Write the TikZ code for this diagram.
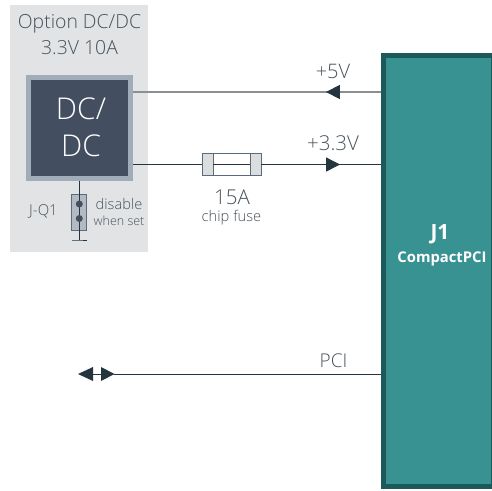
\documentclass[tikz,border=0pt]{standalone}
\usepackage{fontspec}
\setmainfont{Open Sans}[UprightFont={* Light},BoldFont={* Bold}]
\usetikzlibrary{arrows.meta,decorations.markings}
\definecolor{panel}{HTML}{E1E3E5}
\definecolor{dcfill}{HTML}{434F60}
\definecolor{dcedge}{HTML}{A0ACB8}
\definecolor{jfill}{HTML}{389292}
\definecolor{jedge}{HTML}{1C5A5A}
\definecolor{ink}{HTML}{24353F}
\definecolor{txt}{HTML}{46525C}
\definecolor{gline}{HTML}{8A8F92}
\definecolor{fusecap}{HTML}{DCDDDD}
\definecolor{fuseedge}{HTML}{5A6B80}
\definecolor{jump}{HTML}{B4BAC2}
\tikzset{
  x=1pt,y=-1pt,
  lbl/.style={text=txt,inner sep=0pt,align=center,font=\fontsize{#1}{#1}\selectfont},
  wire/.style={draw=ink,line width=0.85pt},
  headat/.style={postaction={decorate},decoration={markings,mark=at position #1 with {\arrow[ink]{Triangle[length=14pt,width=14pt]}}}},
  capbox/.style={draw=fuseedge,fill=fusecap,line width=0.8pt,inner sep=0pt,minimum width=11pt,minimum height=22pt},
}
\begin{document}
\begin{tikzpicture}
\useasboundingbox (0,0) rectangle (492,490);
\node[fill=panel,inner sep=0pt,minimum width=138pt,minimum height=247pt,anchor=north west] (panel) at (10,5) {};
\node[lbl=19.4] (opt) at (79.5,23.5) {Option DC/DC};
\node[lbl=19.4] (volt) at (79.5,47.5) {3.3V 10A};
\node[fill=dcfill,draw=dcedge,line width=5pt,inner sep=0pt,minimum width=102pt,minimum height=101pt,anchor=north west] (dc) at (26,75) {};
\node[text=white,inner sep=0pt,font=\fontsize{30}{30}\selectfont] (dct1) at (81,109) {DC/};
\node[text=white,inner sep=0pt,font=\fontsize{30}{30}\selectfont] (dct2) at (81,146) {DC};
\node[fill=jfill,draw=jedge,line width=5pt,inner sep=0pt,minimum width=110pt,minimum height=431pt,anchor=north west] (j1) at (381,53) {};
\node[inner sep=0pt,text=white,font=\bfseries\fontsize{21}{21}\selectfont] (j1a) at (440,234) {J1};
\node[inner sep=0pt,text=white,font=\bfseries\fontsize{14.8}{14.8}\selectfont] (j1b) at (442,258.5) {CompactPCI};
% +5V
\coordinate (d5) at (dc.east |- 0,92);
\coordinate (j5) at (j1.west |- 0,92);
\draw[draw=gline,line width=1.6pt,headat=0.222] (j5) -- (d5);
\node[lbl=20] (l5) at (333,71) {+5V};
% +3.3V
\coordinate (d3) at (dc.east |- 0,164.5);
\coordinate (j3) at (j1.west |- 0,164.5);
\draw[wire] (d3) -- (j3);
\node[draw=fuseedge,fill=white,line width=0.8pt,inner sep=0pt,minimum width=59pt,minimum height=22pt] (fuse) at (231.5,164.5) {};
\node[capbox,anchor=west] (capl) at (fuse.west) {};
\node[capbox,anchor=east] (capr) at (fuse.east) {};
\draw[wire] (capl.east) -- (capr.west);
\draw[wire,headat=0.658] (capr.east) -- (j3);
\node[lbl=20.5] (l3) at (333,143.5) {+3.3V};
\node[lbl=20.5] (fa) at (232,197.5) {15A};
\node[lbl=14.7] (fb) at (231.5,218) {chip fuse};
% jumper
\node[draw=fuseedge,fill=jump,line width=0.8pt,inner sep=0pt,minimum width=15pt,minimum height=36pt,anchor=north] (jq) at (79.3,193.5) {};
\coordinate (gnd) at (79.3,240);
\draw[draw=ink,line width=0.8pt] (dc.south -| jq.north) -- (gnd);
\draw[draw=ink,line width=0.8pt] (71.5,240) -- (gnd) -- (87,240);
\node[circle,fill=dcfill,inner sep=0pt,minimum size=7pt] (p1) at (79.3,204) {};
\node[circle,fill=dcfill,inner sep=0pt,minimum size=7pt] (p2) at (79.3,218.5) {};
\node[lbl=15] (jl) at (43.5,211) {J-Q1};
\node[lbl=14.6] (dis) at (119,204) {disable};
\node[lbl=12.5] (wh) at (119,220.5) {when set};
% PCI
\coordinate (pl) at (78,374);
\draw[wire] (j1.west |- pl) -- (114,374);
\node[lbl=19] (pci) at (333.5,360.5) {PCI};
\fill[ink] (pl) -- (93,367) -- (93,381) -- cycle;
\fill[ink] (114.5,374) -- (101,367) -- (101,381) -- cycle;
\draw[draw=ink,line width=0.8pt] (93,374) -- (101,374);
\end{tikzpicture}
\end{document}
